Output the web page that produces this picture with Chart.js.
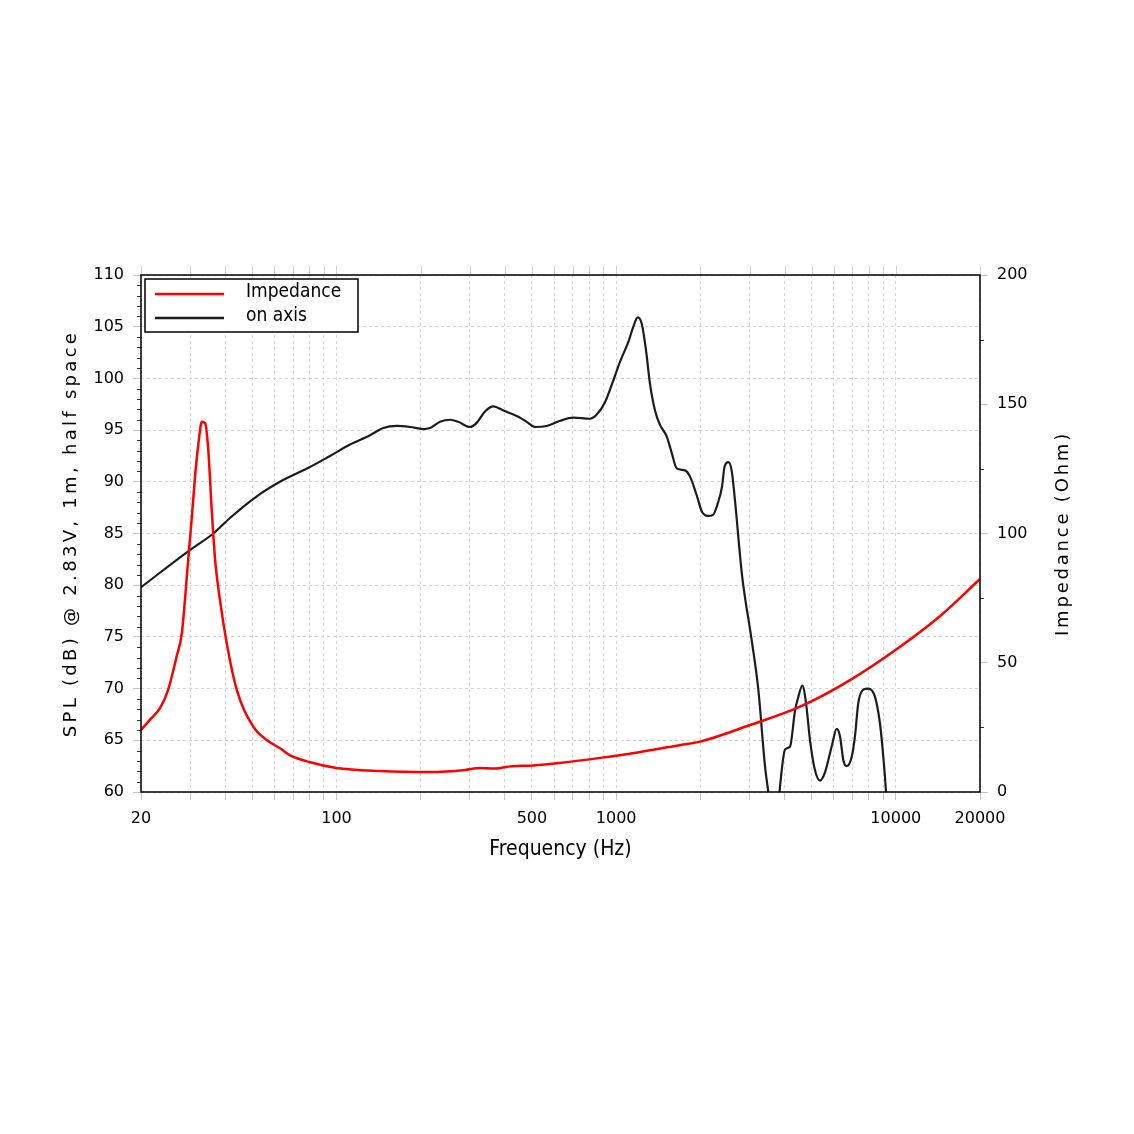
<!DOCTYPE html>
<html><head><meta charset="utf-8">
<script src="https://cdn.jsdelivr.net/npm/chart.js@4.4.1/dist/chart.umd.min.js"></script>
<style>html,body{margin:0;padding:0;background:#fff}#wrap{width:1134px;height:1134px}</style>
</head><body><div id="wrap"><canvas id="c" width="1134" height="1134"></canvas></div>
<script>
// ---- data ----
const splFreq = [20, 29.9, 36.3, 41.6, 51.9, 62.8, 80, 94.8, 111.8, 131.8, 147, 164.2, 183.2, 204.3, 216, 234.6, 254.7, 272.7, 300.2, 317.2, 339.6, 363.8, 395, 446.8, 478.8, 512.6, 564.4, 629.8, 702.8, 806.4, 852, 912.4, 977, 1032, 1105, 1152, 1194, 1234, 1279, 1321, 1377, 1435, 1516, 1580, 1647, 1763, 1837, 1941, 2027, 2130, 2220, 2314, 2390, 2443, 2518, 2588, 2660, 2818, 3052, 3224, 3406, 3500, 3620, 3750, 3853, 4016, 4186, 4363, 4482, 4632, 4775, 4934, 5140, 5358, 5582, 5897, 6146, 6315, 6490, 6675, 6956, 7145, 7342, 7650, 7971, 8424, 8780, 9021, 9223, 9500];
const splDb = [79.8, 83.4, 85.0, 86.5, 88.6, 90.0, 91.4, 92.5, 93.6, 94.5, 95.2, 95.4, 95.3, 95.1, 95.2, 95.8, 96.0, 95.8, 95.3, 95.7, 96.8, 97.3, 96.9, 96.3, 95.8, 95.3, 95.4, 95.9, 96.2, 96.1, 96.5, 97.7, 99.8, 101.6, 103.5, 105.0, 105.9, 105.3, 102.7, 99.5, 96.9, 95.5, 94.4, 92.8, 91.3, 91.1, 90.5, 88.7, 87.1, 86.7, 86.8, 88.0, 89.5, 91.5, 91.9, 91.1, 88.2, 81.0, 74.7, 69.9, 62.5, 60.0, 57, 57, 60.5, 64.1, 64.4, 67.9, 69.2, 70.3, 68.6, 65.0, 62.1, 61.1, 61.9, 64.4, 66.1, 65.4, 63.1, 62.5, 63.4, 65.4, 68.6, 69.9, 70.0, 69.2, 66.6, 63.4, 60.0, 52];
const zFreq = [20, 21.5, 23.4, 25.0, 26.8, 28.0, 28.7, 29.5, 30.4, 31.2, 32.1, 33.0, 33.9, 34.8, 35.8, 36.8, 38.3, 40.5, 44.0, 50.4, 56.3, 62.8, 68, 80, 100, 143, 215, 288, 324, 369, 424, 492, 626, 876, 1221, 1700, 1994, 3010, 4544, 6858, 10352, 14400, 20000];
const zOhm = [24, 27.9, 32.5, 39.5, 52.3, 61.5, 74, 90, 106.5, 122, 135, 143.2, 142.7, 132.3, 109, 90, 74.3, 57.6, 39.5, 25.3, 20.1, 16.9, 14.3, 11.6, 9.3, 8.1, 7.7, 8.5, 9.3, 9.1, 10, 10.2, 11.2, 13.2, 15.5, 18.2, 19.5, 25.9, 33.0, 43.3, 56.2, 68.1, 82.4];
const xGridValues = [20,30,40,50,60,70,80,90,100,200,300,400,500,600,700,800,900,1000,2000,3000,4000,5000,6000,7000,8000,9000,10000,20000];
const xLabelValues = [20, 100, 500, 1000, 10000, 20000];
const seriesLabels = ['Impedance', 'on axis'];
const xTitle = 'Frequency (Hz)';
const yLeftTitle = 'SPL (dB) @ 2.83V, 1m, half space';
const yRightTitle = 'Impedance (Ohm)';

const TICK_FONT = {family: 'DejaVu Sans', size: 16};

const extras = {
  id: 'extras',
  afterDraw(chart) {
    const {ctx, chartArea: a, scales} = chart;
    ctx.save();
    // minor ticks left / right
    ctx.strokeStyle = '#333'; ctx.lineWidth = 1;
    ctx.beginPath();
    for (let v = 61; v < 110; v++) {
      if (v % 5 === 0) continue;
      const y = Math.round(scales.y.getPixelForValue(v)) + 0.5;
      ctx.moveTo(a.left - 4, y); ctx.lineTo(a.left, y);
    }
    for (const v of [25, 75, 125, 175]) {
      const y = Math.round(scales.yR.getPixelForValue(v)) + 0.5;
      ctx.moveTo(a.right, y); ctx.lineTo(a.right + 4, y);
    }
    ctx.stroke();
    // top ticks
    ctx.strokeStyle = '#d0d0d0';
    ctx.beginPath();
    for (const v of xGridValues) {
      const x = Math.round(scales.x.getPixelForValue(v)) + 0.5;
      ctx.moveTo(x, a.top - 9); ctx.lineTo(x, a.top);
    }
    ctx.stroke();
    // frame
    ctx.strokeStyle = '#000'; ctx.lineWidth = 1.5;
    ctx.strokeRect(a.left, a.top, a.right - a.left, a.bottom - a.top);
    // y titles
    ctx.fillStyle = '#000';
    ctx.font = '18px "DejaVu Sans"';
    ctx.textAlign = 'center'; ctx.textBaseline = 'middle';
    const cy = (a.top + a.bottom) / 2;
    ctx.save(); ctx.letterSpacing = '3.3px'; ctx.translate(71, cy); ctx.rotate(-Math.PI / 2); ctx.fillText(yLeftTitle, 0, 0); ctx.restore();
    ctx.save(); ctx.letterSpacing = '2.8px'; ctx.translate(1063, cy); ctx.rotate(-Math.PI / 2); ctx.fillText(yRightTitle, 0, 0); ctx.restore();
    // legend
    const lx = a.left + 4, ly = a.top + 4, lw = 213, lh = 53;
    ctx.fillStyle = '#fff';
    ctx.fillRect(lx, ly, lw, lh);
    ctx.strokeStyle = '#000'; ctx.lineWidth = 1.5;
    ctx.strokeRect(lx, ly, lw, lh);
    chart.data.datasets.forEach((ds, i) => {
      const y = ly + 15 + i * 24;
      ctx.strokeStyle = ds.borderColor; ctx.lineWidth = 2.5;
      ctx.beginPath(); ctx.moveTo(lx + 10, y); ctx.lineTo(lx + 79, y); ctx.stroke();
      ctx.fillStyle = '#000';
      ctx.font = '19px "DejaVu Sans Condensed"';
      ctx.textAlign = 'left'; ctx.textBaseline = 'middle';
      ctx.fillText(ds.label, lx + 101, y - 2);
    });
    ctx.restore();
  }
};

new Chart(document.getElementById('c'), {
  type: 'line',
  data: {
    datasets: [
      {label: seriesLabels[0], data: zFreq.map((f, i) => ({x: f, y: zOhm[i]})), yAxisID: 'yR',
       borderColor: '#ff0000', borderWidth: 2.5, pointRadius: 0, cubicInterpolationMode: 'monotone', fill: false},
      {label: seriesLabels[1], data: splFreq.map((f, i) => ({x: f, y: splDb[i]})), yAxisID: 'y',
       borderColor: '#1c1c1c', borderWidth: 2.2, pointRadius: 0, cubicInterpolationMode: 'monotone', fill: false}
    ]
  },
  options: {
    responsive: false, animation: false, devicePixelRatio: 1,
    layout: {padding: {top: 275, left: 0, right: 0, bottom: 272}},
    plugins: {legend: {display: false}, tooltip: {enabled: false}},
    scales: {
      x: {
        type: 'logarithmic', min: 20, max: 20000,
        afterBuildTicks: s => { s.ticks = xGridValues.map(v => ({value: v})); },
        afterFit: s => { s.height = 70; },
        ticks: {autoSkip: false, maxRotation: 0, minRotation: 0, padding: 9, color: '#000', font: TICK_FONT,
                callback: v => xLabelValues.includes(v) ? String(v) : ''},
        grid: {color: '#d6d6d6', lineWidth: 1, tickColor: '#c4c4c4', tickLength: 8, tickBorderDash: []},
        border: {display: false, dash: [3, 3]},
        title: {display: true, text: xTitle, color: '#000', padding: 0,
                font: {family: 'DejaVu Sans Condensed', size: 21}}
      },
      y: {
        position: 'left', min: 60, max: 110,
        afterFit: s => { s.width = 141; },
        ticks: {stepSize: 5, padding: 9, color: '#000', font: TICK_FONT},
        grid: {color: '#d6d6d6', lineWidth: 1, tickColor: '#c4c4c4', tickLength: 8, tickBorderDash: []},
        border: {display: false, dash: [3, 3]}
      },
      yR: {
        position: 'right', min: 0, max: 200,
        afterFit: s => { s.width = 154; },
        ticks: {stepSize: 50, padding: 9, color: '#000', font: TICK_FONT},
        grid: {drawOnChartArea: false, tickColor: '#c4c4c4', tickLength: 8},
        border: {display: false}
      }
    }
  },
  plugins: [extras]
});
</script>
</body></html>
